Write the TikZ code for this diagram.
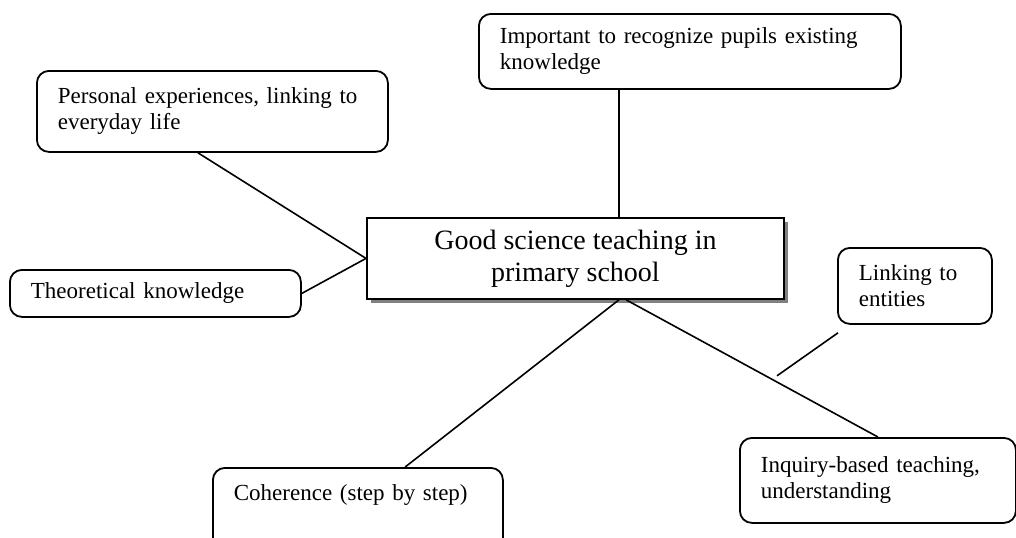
\documentclass[tikz,border=0pt]{standalone}
\usepackage{fontspec}
\setmainfont{Liberation Serif}
\usetikzlibrary{calc,shadows}

\begin{document}
\begin{tikzpicture}[x=0.5pt,y=-0.5pt,
  idea/.style={draw,line width=0.9pt,rounded corners=6pt,anchor=north west,align=left,
    inner xsep=10.5pt,inner ysep=0pt,font=\fontsize{11.5}{13}\selectfont},
  core/.style={draw,line width=0.9pt,fill=white,anchor=north west,align=center,inner sep=0pt,
    font=\fontsize{14}{16}\selectfont,
    drop shadow={shadow xshift=2pt,shadow yshift=-2pt,fill=black!50,opacity=1}},
  link/.style={line width=0.8pt}]
\useasboundingbox (0,0) rectangle (1016,537);
\clip (0,0) rectangle (1016,537);

%Center
\node[core,minimum width=208.5pt,minimum height=40.5pt] (good) at (366,217) {Good science teaching in\\primary school};

%Around the center
\node[idea,text width=190pt,minimum height=37.5pt] (recog) at (478,13) {Important to recognize pupils existing\\knowledge};
\node[idea,text width=154.5pt,minimum height=40.5pt] (personal) at (36,70) {Personal experiences, linking to\\everyday life};
\node[idea,text width=124.5pt,minimum height=23.5pt] (theory) at (9,269) {Theoretical knowledge};
\node[idea,text width=56pt,minimum height=38pt] (entities) at (837,247) {Linking to\\entities};
\node[idea,text width=117pt,minimum height=42.5pt] (inquiry) at (739,437) {Inquiry-based teaching,\\understanding};
\node[idea,text width=124pt,text height=16.5pt,text depth=40pt] (steps) at (212,467) {Coherence (step by step)};

%Lines
\draw[link] ($(recog.south west)!0.332!(recog.south east)$) coordinate (r) -- (r |- good.north);
\draw[link] ($(personal.south west)!0.459!(personal.south east)$) -- (good.west);
\draw[link] (theory.east) -- (good.west);
\draw[link] ($(good.south west)!0.604!(good.south east)$) -- ($(steps.north west)!0.662!(steps.north east)$);
\draw[link] ($(good.south west)!0.621!(good.south east)$) -- (inquiry.north);
\draw[link] (entities.south west) ++(1,8) coordinate (e) -- ++(-61,43);
\end{tikzpicture}
\end{document}
